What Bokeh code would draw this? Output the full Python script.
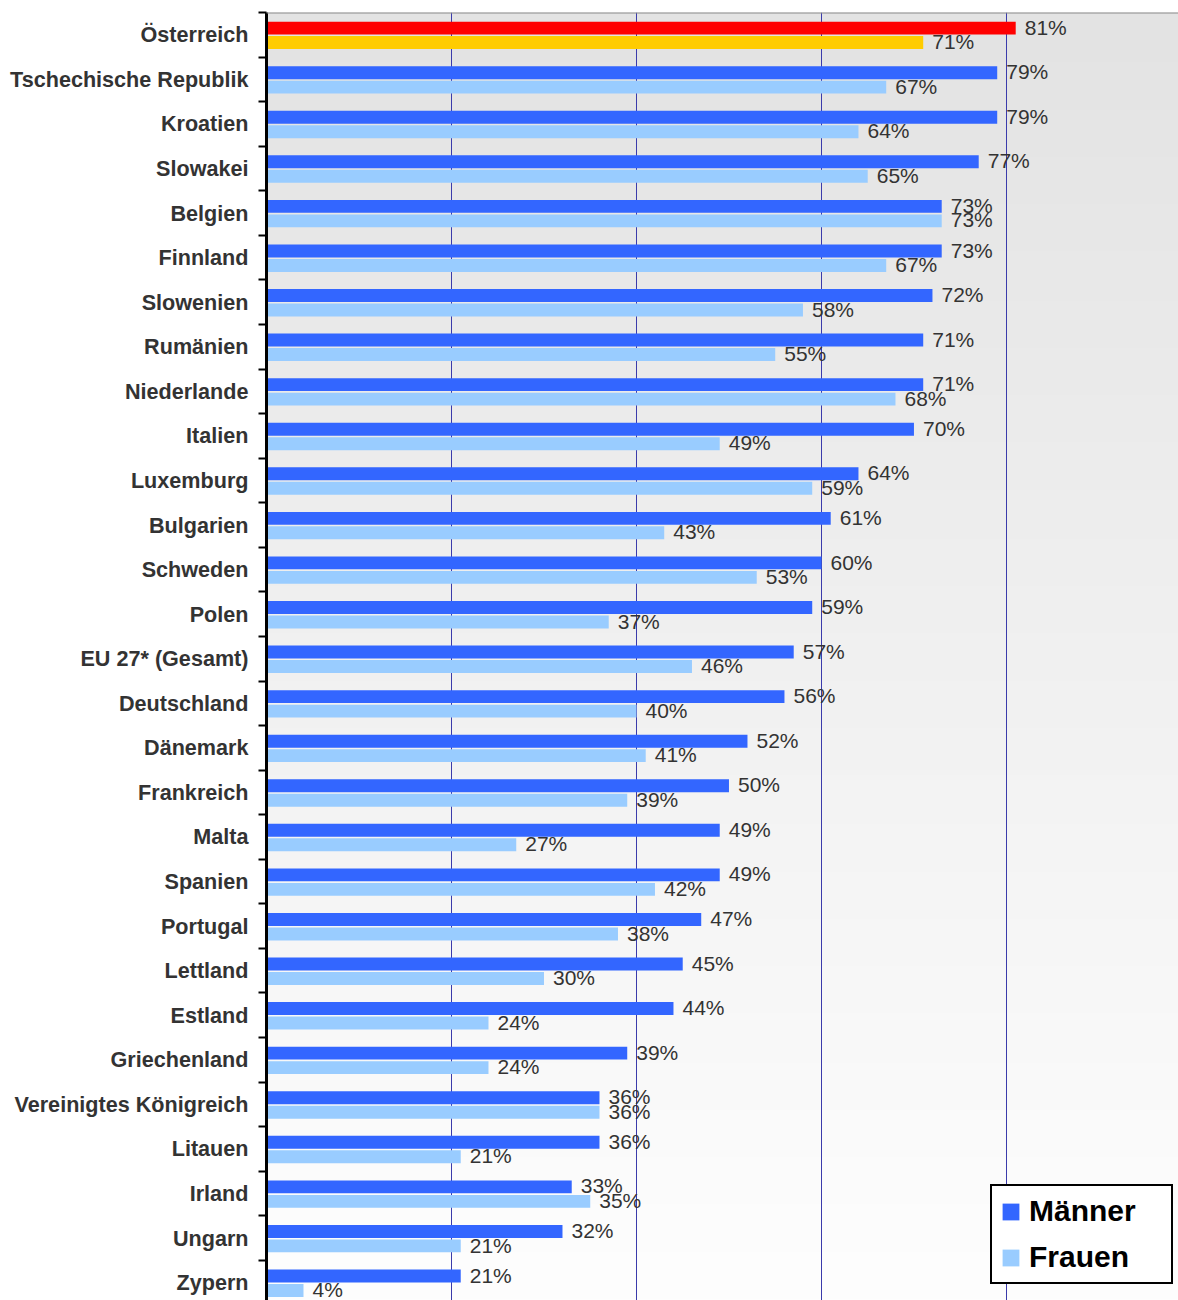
import numpy as np
from bokeh.plotting import figure
from bokeh.models import ColumnDataSource, Range1d, FixedTicker, Span, Legend, LegendItem
from bokeh.transform import dodge
from bokeh.core.properties import value
from bokeh.embed import file_html
from bokeh.resources import INLINE

countries = [
    "Österreich", "Tschechische Republik", "Kroatien", "Slowakei", "Belgien",
    "Finnland", "Slowenien", "Rumänien", "Niederlande", "Italien",
    "Luxemburg", "Bulgarien", "Schweden", "Polen", "EU 27* (Gesamt)",
    "Deutschland", "Dänemark", "Frankreich", "Malta", "Spanien",
    "Portugal", "Lettland", "Estland", "Griechenland", "Vereinigtes Königreich",
    "Litauen", "Irland", "Ungarn", "Zypern",
]
maenner = [81, 79, 79, 77, 73, 73, 72, 71, 71, 70, 64, 61, 60, 59, 57, 56, 52, 50,
           49, 49, 47, 45, 44, 39, 36, 36, 33, 32, 21]
frauen = [71, 67, 64, 65, 73, 67, 58, 55, 68, 49, 59, 43, 53, 37, 46, 40, 41, 39,
          27, 42, 38, 30, 24, 24, 36, 21, 35, 21, 4]
highlight = "Österreich"
grid_ticks = [20, 40, 60, 80]

FONT = "Liberation Sans"
n = len(countries)
idx = list(range(n))
m_colors = ["#ff0000" if c == highlight else "#3366ff" for c in countries]
f_colors = ["#ffcc00" if c == highlight else "#99ccff" for c in countries]

src = ColumnDataSource(dict(
    idx=idx, m=maenner, f=frauen, mc=m_colors, fc=f_colors,
    mt=[f"{v}%" for v in maenner], ft=[f"{v}%" for v in frauen],
))

X_MAX = 98.6
Y_TOP, Y_BOT = -0.5, 28.4

p = figure(width=1178, height=1300,
           x_range=Range1d(0, X_MAX), y_range=Range1d(Y_BOT, Y_TOP),
           output_backend="svg", toolbar_location=None,
           x_axis_location=None,
           min_border_left=266, min_border_right=0,
           min_border_top=12, min_border_bottom=0)
p.outline_line_color = None
p.background_fill_color = "white"
p.border_fill_color = "white"

# vertical gradient background (style only)
rows = 600
shade = np.linspace(227, 254, rows).astype(np.uint8)
img = np.zeros((rows, 1), dtype=np.uint32)
view = img.view(dtype=np.uint8).reshape((rows, 1, 4))
view[:, 0, 0] = shade
view[:, 0, 1] = shade
view[:, 0, 2] = shade
view[:, 0, 3] = 255
p.image_rgba(image=[img], x=0, y=Y_TOP, dw=X_MAX, dh=Y_BOT - Y_TOP, level="image")

p.xgrid.ticker = FixedTicker(ticks=grid_ticks)
p.xgrid.grid_line_color = "#3b3bab"
p.xgrid.grid_line_width = 1
p.ygrid.visible = False

M_OFF, F_OFF, BAR_H = -0.15, 0.175, 0.29
r_m = p.hbar(y=dodge("idx", M_OFF), left=0, right="m", height=BAR_H,
             fill_color="mc", line_color=None, source=src)
r_f = p.hbar(y=dodge("idx", F_OFF), left=0, right="f", height=BAR_H,
             fill_color="fc", line_color=None, source=src)

common = dict(x_offset=9, text_baseline="middle", text_align="left",
              text_font=value(FONT), text_font_size="21px", text_color="#333333",
              source=src)
p.text(x="m", y=dodge("idx", M_OFF - 0.02), text="mt", **common)
p.text(x="f", y=dodge("idx", F_OFF - 0.02), text="ft", **common)

p.add_layout(Span(location=Y_TOP, dimension="width", line_color="#8a8a8a", line_width=2))

ax = p.yaxis[0]
ax.ticker = FixedTicker(ticks=idx, minor_ticks=[i - 0.5 for i in idx])
ax.major_label_overrides = {i: c for i, c in enumerate(countries)}
ax.major_tick_line_color = None
ax.major_tick_out = 0
ax.major_tick_in = 0
ax.minor_tick_out = 8
ax.minor_tick_in = 0
ax.minor_tick_line_width = 2
ax.minor_tick_line_color = "black"
ax.axis_line_width = 3
ax.axis_line_color = "black"
ax.major_label_text_font = FONT
ax.major_label_text_font_style = "bold"
ax.major_label_text_font_size = "21.6px"
ax.major_label_text_color = "#333333"
ax.major_label_standoff = 10

legend = Legend(
    items=[LegendItem(label="Männer", renderers=[r_m], index=1),
           LegendItem(label="Frauen", renderers=[r_f], index=1)],
    location=(724, 16),
    label_text_font=FONT, label_text_font_style="bold", label_text_font_size="30px",
    label_text_color="black",
    glyph_width=21, glyph_height=21, label_standoff=8,
    padding=8, spacing=12, margin=0, label_width=134,
    border_line_color="black", border_line_width=2.5, border_line_alpha=1.0,
    background_fill_color="white", background_fill_alpha=1.0,
)
p.add_layout(legend)

open("out.html", "w").write(file_html(p, INLINE))
